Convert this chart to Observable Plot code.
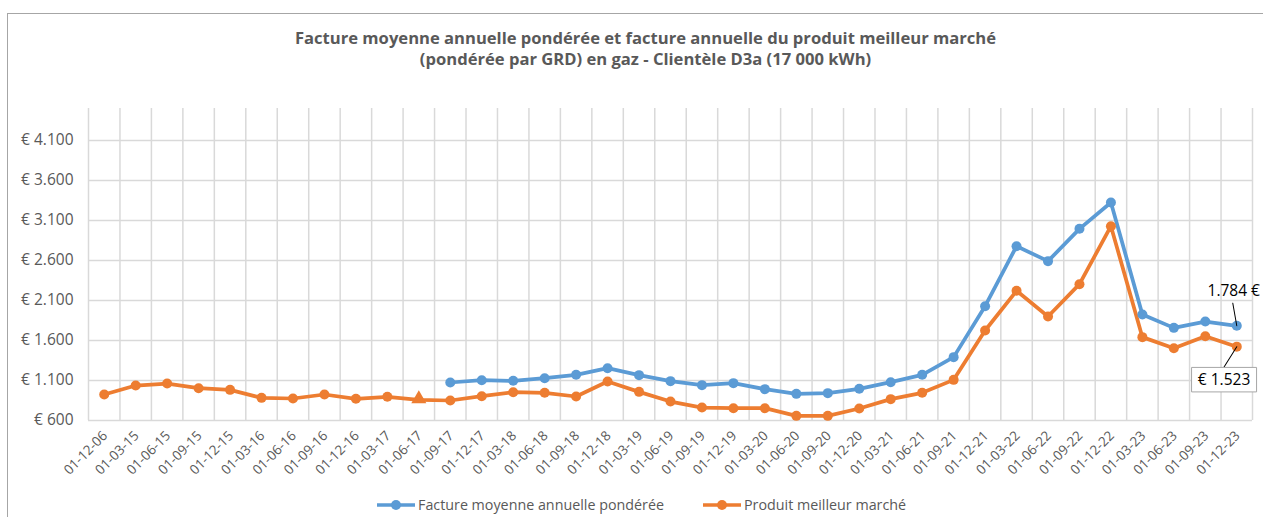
<!DOCTYPE html>
<html>
<head>
<meta charset="utf-8">
<script src="https://cdn.jsdelivr.net/npm/d3@7"></script>
<script src="https://cdn.jsdelivr.net/npm/@observablehq/plot@0.6"></script>
<style>
  body { margin: 0; background: #fff; }
  #wrap { position: relative; width: 1263px; height: 517px; overflow: hidden; font-family: "Open Sans", sans-serif; background: #fff; }
  #frame { position: absolute; left: 7px; top: 13px; width: 1300px; height: 600px; border-left: 1.5px solid #a6a6a6; border-top: 1.5px solid #a6a6a6; }
  #title { position: absolute; left: 0; width: 1291px; top: 27px; text-align: center; font-weight: bold; font-size: 16.6px; line-height: 21px; color: #595959; }
  #chart { position: absolute; left: 0; top: 0; }
  .leg { position: absolute; top: 495px; display: flex; align-items: center; font-size: 14.3px; color: #595959; white-space: nowrap; }
  .leg svg { margin-right: 3px; }
</style>
</head>
<body>
<div id="wrap">
  <div id="frame"></div>
  <div id="chart"></div>
  <div id="title">Facture moyenne annuelle pondérée et facture annuelle du produit meilleur marché<br>(pondérée par GRD) en gaz - Clientèle D3a (17 000 kWh)</div>
  <div class="leg" style="left:377px"><svg width="38" height="12"><line x1="0" y1="6" x2="38" y2="6" stroke="#5b9bd5" stroke-width="3.5"/><circle cx="19" cy="6" r="5" fill="#5b9bd5"/></svg><span>Facture moyenne annuelle pondérée</span></div>
  <div class="leg" style="left:703px"><svg width="38" height="12"><line x1="0" y1="6" x2="38" y2="6" stroke="#ed7d31" stroke-width="3.5"/><circle cx="19" cy="6" r="5" fill="#ed7d31"/></svg><span>Produit meilleur marché</span></div>
</div>
<script>
const categories = ["01-12-06","01-03-15","01-06-15","01-09-15","01-12-15","01-03-16","01-06-16","01-09-16","01-12-16","01-03-17","01-06-17","01-09-17","01-12-17","01-03-18","01-06-18","01-09-18","01-12-18","01-03-19","01-06-19","01-09-19","01-12-19","01-03-20","01-06-20","01-09-20","01-12-20","01-03-21","01-06-21","01-09-21","01-12-21","01-03-22","01-06-22","01-09-22","01-12-22","01-03-23","01-06-23","01-09-23","01-12-23"];
const factureMoyenne = [null,null,null,null,null,null,null,null,null,null,null,1075,1104,1096,1129,1171,1254,1167,1092,1042,1067,992,933,942,996,1079,1171,1392,2029,2779,2592,2996,3325,1925,1758,1837,1784];
const produitMeilleur = [925,1037,1062,1004,983,883,875,925,871,896,858,850,904,954,946,900,1087,958,837,762,754,754,658,658,750,867,946,1108,1725,2221,1900,2304,3029,1642,1504,1654,1523];
const yTicks = [600,1100,1600,2100,2600,3100,3600,4100];
const yMax = 4500;
const triangleCategory = "01-06-17";

const blue = "#5b9bd5", orange = "#ed7d31", grid = "#d9d9d9", txt = "#595959";
const idx = d3.range(categories.length);
const blueRows = idx.filter(i => factureMoyenne[i] != null).map(i => ({i, v: factureMoyenne[i]}));
const orangeRows = idx.map(i => ({i, v: produitMeilleur[i], tri: categories[i] === triangleCategory}));
const bounds = d3.range(categories.length + 1).map(k => k - 0.5);
const last = categories.length - 1;
const euro = d => "€ " + d3.format(",")(d).replace(/,/g, ".");

const boxSymbol = { draw(ctx) { ctx.rect(-32.5, -12.25, 65, 24.5); } };
const leader = { draw(ctx, l) { ctx.moveTo(0, 0); ctx.lineTo(0, -l); } };

const chart = Plot.plot({
  width: 1263, height: 517,
  marginLeft: 88, marginRight: 11, marginTop: 108, marginBottom: 97,
  style: { fontFamily: "Open Sans, sans-serif", background: "transparent", overflow: "visible" },
  x: { type: "linear", domain: [-0.5, last + 0.5], axis: null },
  y: { domain: [600, yMax], axis: null },
  marks: [
    Plot.ruleY(yTicks, { stroke: grid, strokeWidth: 1.5 }),
    Plot.ruleX(bounds, { stroke: grid, strokeWidth: 1.5 }),
    Plot.axisY(yTicks, { tickSize: 0, tickPadding: 15, tickFormat: euro, fontSize: 15.5, color: txt, label: null }),
    Plot.axisX(idx, { tickSize: 0, tickPadding: 13, tickRotate: -45, tickFormat: i => categories[i], fontSize: 13.5, color: txt, label: null, dx: 1 }),
    Plot.line(blueRows, { x: "i", y: "v", stroke: blue, strokeWidth: 3.75 }),
    Plot.line(orangeRows, { x: "i", y: "v", stroke: orange, strokeWidth: 3.75 }),
    Plot.dot(blueRows, { x: "i", y: "v", r: 5, fill: blue }),
    Plot.dot(orangeRows.filter(d => !d.tri), { x: "i", y: "v", r: 5, fill: orange }),
    Plot.dot(orangeRows.filter(d => d.tri), { x: "i", y: "v", r: 5.6, fill: orange, symbol: "triangle", dy: -1 }),
    // annotations
    Plot.vector([{i: last, v: factureMoyenne[last]}], { x: "i", y: "v", length: 23, rotate: -10, anchor: "start", shape: leader, stroke: "#000", strokeWidth: 1 }),
    Plot.vector([{i: last, v: produitMeilleur[last]}], { x: "i", y: "v", length: 24, rotate: -148, anchor: "start", shape: leader, stroke: "#000", strokeWidth: 1 }),
    Plot.text([{i: last, v: factureMoyenne[last]}], { x: "i", y: "v", text: d => d3.format(",")(d.v).replace(/,/g, ".") + " €", dx: -3, dy: -35, fontSize: 15.5, fill: "#000" }),
    Plot.dot([{i: last, v: produitMeilleur[last]}], { x: "i", y: "v", symbol: boxSymbol, dx: -12.7, dy: 33, fill: "#fff", stroke: "#a6a6a6", strokeWidth: 1 }),
    Plot.text([{i: last, v: produitMeilleur[last]}], { x: "i", y: "v", text: d => euro(d.v), dx: -12.7, dy: 33, fontSize: 15.5, fill: "#000" })
  ]
});
document.getElementById("chart").appendChild(chart);
</script>
</body>
</html>
